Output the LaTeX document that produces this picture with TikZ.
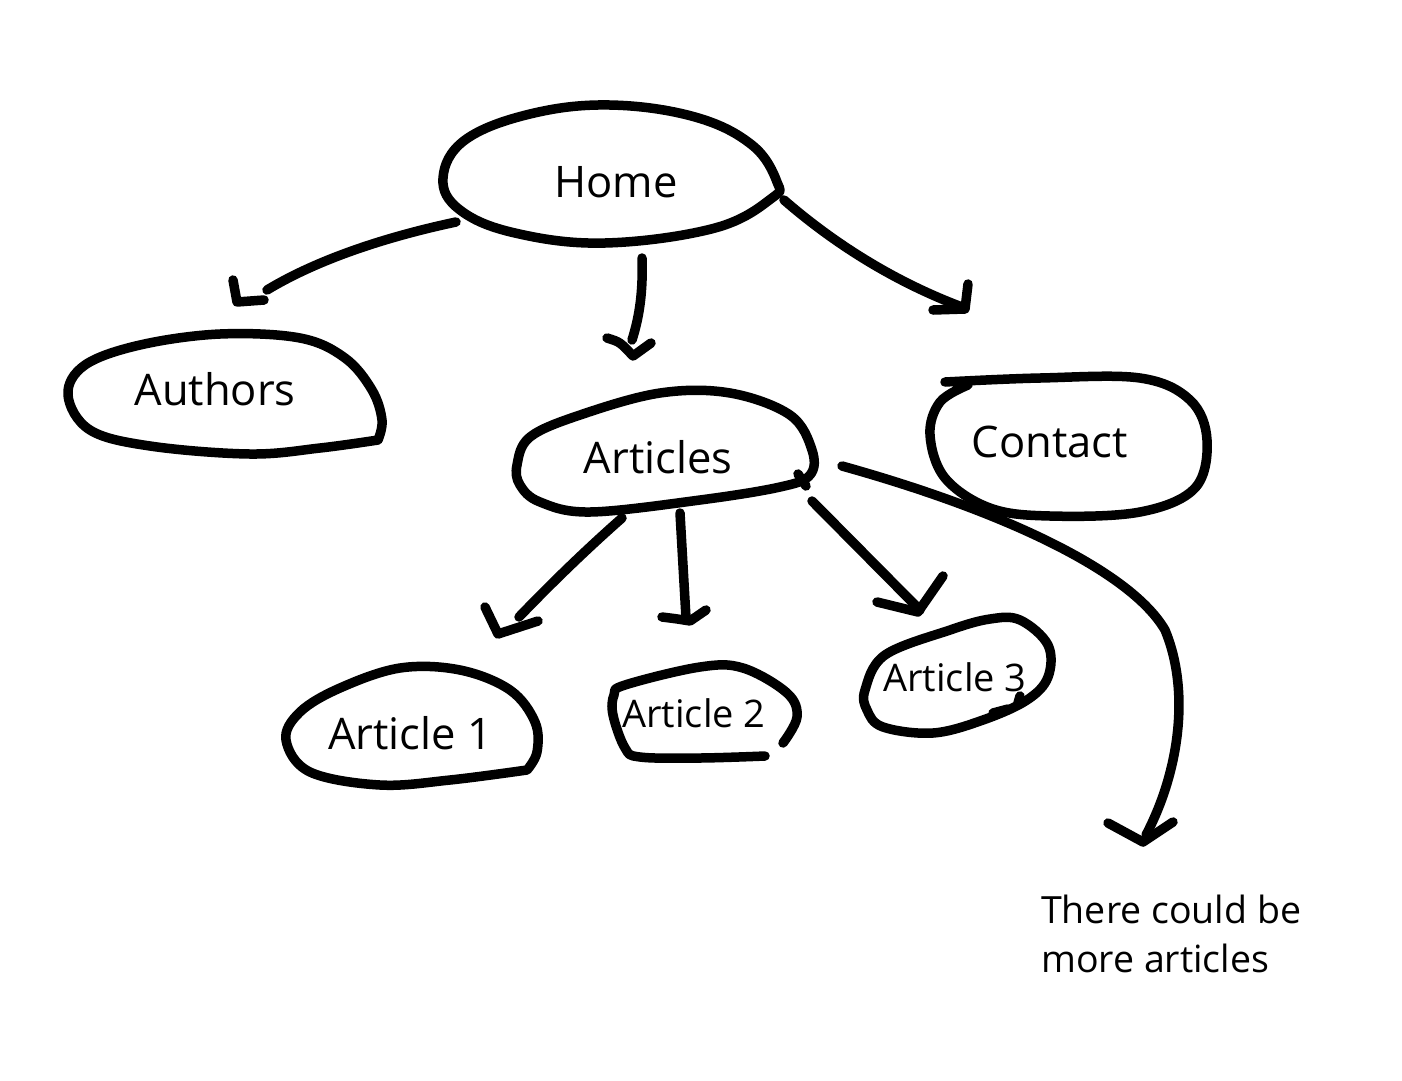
\documentclass[tikz,border=0pt]{standalone}
\usepackage{fontspec}
\setmainfont{Open Sans}
\begin{document}
\begin{tikzpicture}[x=1pt,y=-1pt,
  ink/.style={line width=9.5pt, line cap=round, line join=round},
  bigl/.style={font=\fontsize{43.5}{50}\selectfont, inner sep=0pt, anchor=base},
  smalll/.style={font=\fontsize{38}{45}\selectfont, inner sep=0pt, anchor=base},
  note/.style={font=\fontsize{37.5}{49}\selectfont, inner sep=0pt, align=left, anchor=north west}]
\useasboundingbox (0,0) rectangle (1402,1080);
\fill[white] (0,0) rectangle (1402,1080);

% ---- labels ----
\node[bigl] (home) at (616,197) {Home};
\node[bigl] (authors) at (215,405) {Authors};
\node[bigl] (articles) at (658,473) {Articles};
\node[bigl] (contact) at (1050,457) {Contact};
\node[bigl] (art1) at (410,749) {Article 1};
\node[smalll] (art2) at (694,727) {Article 2};
\node[smalll] (art3) at (955,691) {Article 3};
\node[note] (more) at (1041,895) {There could be\\more articles};

% ---- hand-drawn outlines ----
\draw[ink] plot[smooth cycle, tension=0.65] coordinates {(443,178) (465,140) (530,114) (610,105) (695,117) (752,145) (777,182) (772,198) (715,228) (605,243) (515,233) (460,210)};
\draw[ink] plot[smooth, tension=0.6] coordinates {(378,440) (320,448) (250,454) (150,446) (90,430) (68,395) (85,365) (140,345) (220,334) (300,338) (345,358) (372,390) (382,420) (378,440)};
\draw[ink] plot[smooth cycle, tension=0.6] coordinates {(517,465) (530,437) (580,415) (660,393) (730,393) (790,415) (812,450) (810,475) (780,487) (700,500) (590,512) (540,502) (520,485)};
\draw[ink] (798,474) -- (806,486);
\draw[ink] plot[smooth, tension=0.6] coordinates {(945,382) (1040,378) (1140,378) (1190,400) (1207,440) (1195,488) (1140,512) (1050,516) (990,508) (945,478) (930,435) (940,402) (968,385)};
\draw[ink] plot[smooth, tension=0.6] coordinates {(527,770) (450,780) (380,785) (310,772) (286,740) (300,712) (340,688) (400,668) (460,670) (510,690) (535,722) (537,752) (527,770)};
\draw[ink] plot[smooth, tension=0.6] coordinates {(765,756) (700,758) (640,757) (625,748) (613,715) (614,695) (625,685) (700,667) (743,668) (787,693) (797,717) (783,743)};
\draw[ink] plot[smooth cycle, tension=0.6] coordinates {(865,690) (885,655) (950,630) (990,619) (1020,620) (1048,645) (1048,677) (1027,700) (983,720) (933,733) (883,727) (867,710)};
\draw[ink] (993,713) -- (1008,709);
\draw[ink] (1018,703) -- (1020,696);

% ---- connectors ----
\coordinate (a1s) at (456,222);  \coordinate (a1e) at (267,290);
\coordinate (a1h1) at (233,280); \coordinate (a1t) at (237,302); \coordinate (a1h2) at (264,300);
\draw[ink] (a1s) .. controls (390,236) and (320,258) .. (a1e);
\draw[ink] (a1h1) -- (a1t) -- (a1h2);

\coordinate (a2s) at (642,258);  \coordinate (a2e) at (632,340);
\coordinate (a2h1) at (607,338); \coordinate (a2t) at (633,356); \coordinate (a2h2) at (651,343);
\draw[ink] (a2s) .. controls (643,290) and (640,315) .. (a2e);
\draw[ink] (a2h1) .. controls (620,342) .. (a2t) -- (a2h2);

\coordinate (a3s) at (784,200);  \coordinate (a3e) at (962,307);
\coordinate (a3h1) at (933,310); \coordinate (a3t) at (965,309); \coordinate (a3h2) at (968,284);
\draw[ink] (a3s) .. controls (830,240) and (890,280) .. (a3e);
\draw[ink] (a3h1) -- (a3t) -- (a3h2);

\coordinate (a4s) at (622,518);  \coordinate (a4e) at (519,617);
\coordinate (a4h1) at (485,607); \coordinate (a4t) at (498,634); \coordinate (a4h2) at (538,621);
\draw[ink] (a4s) .. controls (580,555) and (545,590) .. (a4e);
\draw[ink] (a4h1) -- (a4t) -- (a4h2);

\coordinate (a5s) at (680,513);  \coordinate (a5e) at (686,618);
\coordinate (a5h1) at (662,617); \coordinate (a5t) at (690,621); \coordinate (a5h2) at (706,610);
\draw[ink] (a5s) -- (a5e);
\draw[ink] (a5h1) .. controls (678,619) .. (a5t) -- (a5h2);

\coordinate (a6s) at (812,501);  \coordinate (a6e) at (920,610);
\coordinate (a6h1) at (877,602); \coordinate (a6t) at (918,612); \coordinate (a6h2) at (943,576);
\draw[ink] (a6s) -- (a6e);
\draw[ink] (a6h1) -- (a6t) -- (a6h2);

\coordinate (a7s) at (842,466);  \coordinate (a7m) at (1165,630); \coordinate (a7e) at (1146,835);
\coordinate (a7h1) at (1108,823); \coordinate (a7t) at (1143,842); \coordinate (a7h2) at (1173,822);
\draw[ink] (a7s) .. controls (1000,510) and (1130,570) .. (a7m) .. controls (1190,690) and (1180,770) .. (a7e);
\draw[ink] (a7h1) -- (a7t) -- (a7h2);
\end{tikzpicture}
\end{document}
